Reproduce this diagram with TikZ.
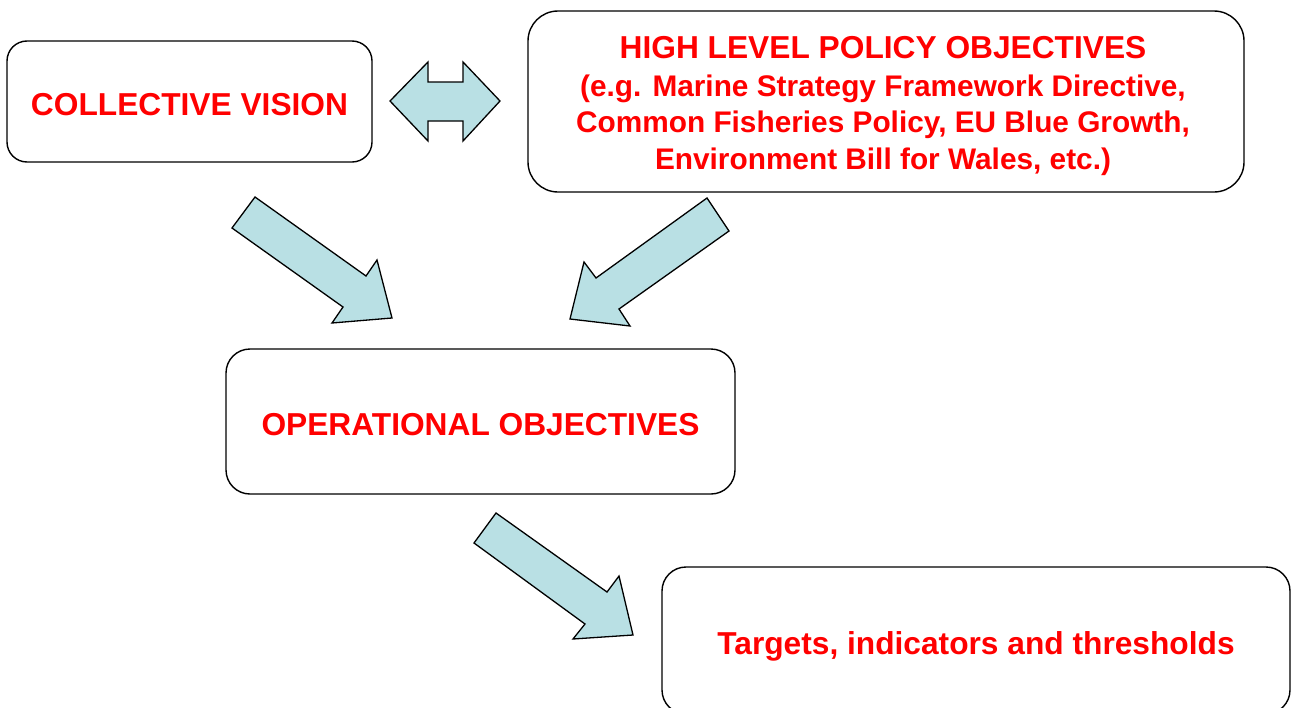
\documentclass[tikz,border=0pt]{standalone}
\usepackage{fontspec}
\setmainfont{Liberation Sans}
\definecolor{txtred}{RGB}{255,0,0}
\definecolor{arrowfill}{RGB}{185,224,228}
\begin{document}
\begin{tikzpicture}[x=1pt,y=-1pt,
  box/.style={draw=black, line width=1.4pt, fill=white, inner sep=0pt, align=center,
    text=txtred, font=\fontsize{31.7}{37}\selectfont\bfseries, text height=27pt, text depth=0pt},
  txt/.style={inner sep=0pt, align=center, text=txtred, font=\fontsize{29.8}{36.5}\selectfont\bfseries},
  blockarrow/.style={draw=black, line width=1.3pt, fill=arrowfill, line join=miter}]
\useasboundingbox (0,0) rectangle (1292,707);
% boxes
\node[box, minimum width=365pt, minimum height=121pt, rounded corners=20pt] (cv) at (189.5,101.5) {COLLECTIVE VISION};
\node[box, minimum width=716pt, minimum height=181pt, rounded corners=30pt] (hl) at (886,101.5) {};
\node[txt] (hltext) at (883,106)
  {{\fontsize{31.7}{36.5}\selectfont HIGH LEVEL POLICY OBJECTIVES}\\[1.5pt](e.g. Marine Strategy Framework Directive,\\Common Fisheries Policy, EU Blue Growth,\\Environment Bill for Wales, etc.)};
\node[box, minimum width=509pt, minimum height=145pt, rounded corners=24pt] (op) at (480.5,421.5) {OPERATIONAL OBJECTIVES};
\node[box, minimum width=628pt, minimum height=147pt, rounded corners=24pt] (tg) at (976,640.5) {Targets, indicators and thresholds};
% double arrow between vision and policy
\draw[blockarrow] (390,101) -- (428,62) -- (428,82) -- (463,82) -- (463,62) -- (500,101)
  -- (463,141) -- (463,121) -- (428,121) -- (428,141) -- cycle;
% vision -> operational
\draw[blockarrow] (255,197) -- (366,276) -- (377,260) -- (392,318) -- (332,323) -- (343,307) -- (232,228) -- cycle;
% policy -> operational
\draw[blockarrow] (707,198) -- (729,231) -- (619,309) -- (630,326) -- (570,319) -- (584,262) -- (596,278) -- cycle;
% operational -> targets
\draw[blockarrow] (496,513) -- (607,592) -- (619,576) -- (633,635) -- (573,639) -- (585,624) -- (474,543) -- cycle;
\end{tikzpicture}
\end{document}
